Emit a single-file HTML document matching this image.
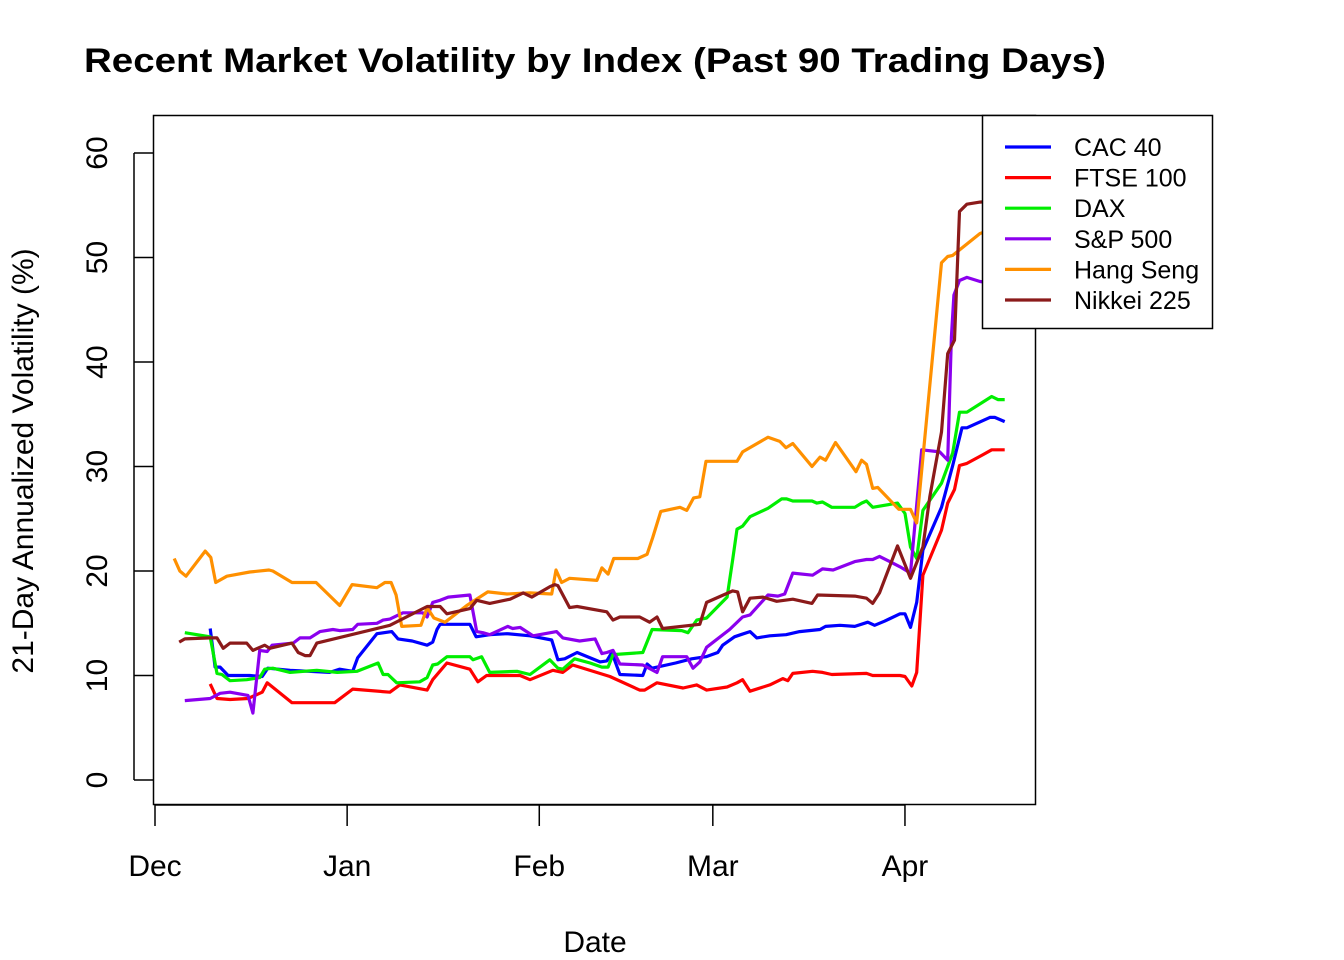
<!DOCTYPE html>
<html><head><meta charset="utf-8"><style>
html,body{margin:0;padding:0;background:#fff;}
svg{display:block;font-family:"Liberation Sans",Arial,sans-serif;}
</style></head><body>
<svg id="chart" width="1344" height="960" viewBox="0 0 1344 960" xmlns="http://www.w3.org/2000/svg">
<rect width="1344" height="960" fill="#fff"/>
<text x="84" y="72" font-size="34" font-weight="bold" textLength="1022" lengthAdjust="spacingAndGlyphs">Recent Market Volatility by Index (Past 90 Trading Days)</text>
<g id="plot"></g>
<rect x="153.5" y="115.5" width="882" height="689" fill="none" stroke="#000" stroke-width="1.5"/>
<text x="595" y="952" font-size="30" text-anchor="middle">Date</text>
<text x="0" y="0" font-size="30" text-anchor="middle" transform="translate(33,461) rotate(-90)">21-Day Annualized Volatility (%)</text>
<g id="legend"></g>
</svg>
<script>
const NS="http://www.w3.org/2000/svg";
// Data: x = days since Dec 1, y = volatility %
const seriesNames=["CAC 40","FTSE 100","DAX","S&P 500","Hang Seng","Nikkei 225"];
const seriesColors=["#0000ff","#ff0000","#00ee00","#8b00ee","#ff9000","#8b1a1a"];
const monthTicks=[0,31,62,90,121];
const monthLabels=["Dec","Jan","Feb","Mar","Apr"];
const yTicks=[0,10,20,30,40,50,60];
const cacDays=[8.9,9.7,10.5,11.8,15.3,17.3,18.2,21.8,28.2,29.8,31.9,32.7,35.8,38.2,39.2,41.5,43.9,44.8,45.5,46.0,50.8,51.8,54.0,56.8,60.5,64.0,65.0,66.1,68.1,71.8,72.9,73.7,75.0,78.7,79.4,80.2,84.0,86.6,88.9,90.8,91.6,93.5,94.5,96.0,97.1,99.2,101.8,104.0,107.3,108.2,110.5,112.9,115.0,116.1,117.7,120.2,121.0,121.9,122.9,123.9,126.9,128.7,130.2,131.0,134.7,135.5,137.1];
const cacVals=[14.5,10.8,10.8,10.0,10.0,9.9,10.7,10.5,10.3,10.6,10.4,11.7,14.0,14.2,13.5,13.3,12.9,13.2,14.4,14.9,14.9,13.7,13.9,14.0,13.8,13.4,11.5,11.6,12.2,11.3,11.4,12.2,10.1,10.0,11.1,10.7,11.2,11.6,11.8,12.2,12.9,13.7,13.9,14.2,13.6,13.8,13.9,14.2,14.4,14.7,14.8,14.7,15.1,14.8,15.2,15.9,15.9,14.6,17.0,22.0,26.1,30.1,33.7,33.7,34.7,34.7,34.3];
const ftseDays=[8.9,10.0,12.1,15.0,17.3,18.1,22.1,29.0,31.9,37.9,39.5,43.9,44.8,47.1,50.8,52.1,53.5,58.9,60.5,64.2,65.8,67.4,73.4,78.2,79.0,81.0,85.2,87.4,89.0,92.3,93.9,94.8,96.0,99.2,101.3,102.1,102.9,106.1,107.7,109.2,114.8,115.8,120.2,121.0,122.1,122.9,123.9,126.9,127.9,129.0,129.8,131.0,133.5,135.0,137.1];
const ftseVals=[9.2,7.8,7.7,7.8,8.4,9.3,7.4,7.4,8.7,8.4,9.1,8.6,9.6,11.2,10.6,9.4,10.0,10.0,9.6,10.5,10.3,11.0,9.9,8.6,8.6,9.3,8.8,9.1,8.6,8.9,9.3,9.6,8.5,9.1,9.7,9.5,10.2,10.4,10.3,10.1,10.2,10.0,10.0,9.9,9.0,10.3,19.6,23.9,26.5,27.8,30.1,30.3,31.1,31.6,31.6];
const daxDays=[4.8,8.9,10.0,10.8,12.1,14.8,16.9,17.7,19.0,21.8,26.1,29.4,32.6,36.0,36.8,37.6,39.0,42.7,43.9,44.8,45.6,47.1,50.8,51.3,52.7,54.0,58.4,60.5,63.7,65.0,65.8,67.7,70.2,72.1,73.1,73.9,78.7,80.2,85.0,86.0,87.4,89.0,92.3,93.2,93.9,94.8,96.0,98.9,101.1,101.9,102.9,106.0,106.8,107.7,109.2,112.9,114.0,114.8,115.8,119.8,121.0,121.9,122.9,123.9,126.9,128.7,129.8,131.0,135.0,136.0,137.1];
const daxVals=[14.1,13.7,10.2,10.1,9.5,9.6,9.8,10.6,10.7,10.3,10.5,10.3,10.4,11.2,10.1,10.1,9.3,9.4,9.8,11.0,11.1,11.8,11.8,11.5,11.8,10.3,10.4,10.1,11.5,10.7,10.6,11.6,11.2,10.8,10.8,12.0,12.2,14.4,14.3,14.1,15.3,15.5,17.5,21.1,24.0,24.3,25.2,26.0,26.9,26.9,26.7,26.7,26.5,26.6,26.1,26.1,26.5,26.7,26.1,26.5,25.5,22.3,21.2,25.8,28.4,31.3,35.2,35.2,36.7,36.4,36.4];
const spDays=[4.8,8.9,10.5,12.1,15.0,15.8,16.9,18.1,18.9,22.3,23.4,25.0,26.6,28.7,29.8,31.9,32.7,35.8,36.8,37.9,40.0,43.2,43.9,44.8,46.0,47.3,50.8,51.9,52.9,54.0,56.9,57.7,58.9,61.0,64.8,65.8,68.5,71.0,72.1,72.9,73.9,75.0,78.7,81.0,81.9,85.8,86.8,87.9,89.0,92.7,94.8,96.0,98.9,100.5,101.6,102.9,106.1,107.7,109.4,112.9,114.8,115.8,116.9,120.2,121.9,123.7,126.6,127.9,128.5,128.9,129.8,131.0,133.1,137.1];
const spVals=[7.6,7.8,8.3,8.4,8.1,6.4,12.4,12.3,12.9,13.1,13.6,13.6,14.2,14.4,14.3,14.4,14.9,15.0,15.3,15.4,16.0,16.0,15.6,17.0,17.2,17.5,17.7,14.2,14.1,13.9,14.7,14.5,14.6,13.8,14.2,13.6,13.3,13.5,12.1,12.2,12.4,11.1,11.0,10.3,11.8,11.8,10.7,11.3,12.7,14.4,15.6,15.8,17.7,17.6,17.8,19.8,19.6,20.2,20.1,20.9,21.1,21.1,21.4,20.4,19.8,31.6,31.4,30.6,42.4,46.4,47.8,48.1,47.7,47.4];
const hsDays=[3.1,4.0,5.0,8.1,9.0,9.8,11.6,15.3,18.4,19.0,22.1,26.0,29.8,31.8,35.8,37.1,38.1,38.9,39.8,42.9,43.9,45.0,46.8,50.3,53.7,56.8,60.5,64.0,64.7,65.6,66.9,71.3,72.1,73.1,74.0,77.9,79.4,80.3,81.6,84.7,85.8,86.9,87.9,88.9,93.9,94.8,98.9,100.8,101.8,102.9,106.0,107.3,108.2,109.8,113.1,114.0,114.8,115.8,116.6,120.0,121.9,122.9,126.9,127.9,128.7,133.1,137.1];
const hsVals=[21.2,20.0,19.5,21.9,21.3,18.9,19.5,19.9,20.1,20.0,18.9,18.9,16.7,18.7,18.4,18.9,18.9,17.7,14.7,14.8,16.5,15.5,15.1,16.7,18.0,17.8,17.9,17.8,20.1,18.9,19.3,19.1,20.3,19.7,21.2,21.2,21.6,23.2,25.7,26.1,25.8,27.0,27.1,30.5,30.5,31.4,32.8,32.4,31.8,32.2,30.0,30.9,30.6,32.3,29.5,30.6,30.2,27.9,28.0,25.9,25.9,24.6,49.5,50.1,50.2,52.3,53.1];
const nkDays=[3.9,4.8,8.9,10.0,11.0,12.1,14.8,15.8,17.7,18.5,22.1,23.1,24.2,25.0,26.1,37.9,43.9,46.0,47.1,50.8,51.9,54.0,57.3,59.4,60.8,63.7,64.5,65.0,66.9,68.1,72.9,73.9,75.0,78.2,79.8,81.0,81.9,87.9,89.0,93.2,94.0,94.8,96.0,98.1,100.3,102.9,106.0,106.9,112.9,114.8,115.8,116.9,119.8,121.9,123.9,125.0,126.9,127.9,129.0,129.8,131.0,133.1,137.1];
const nkVals=[13.2,13.5,13.6,13.6,12.6,13.1,13.1,12.4,12.9,12.6,13.1,12.2,11.9,11.9,13.1,14.8,16.6,16.6,15.9,16.4,17.2,16.9,17.3,17.9,17.5,18.5,18.7,18.6,16.5,16.6,16.1,15.3,15.6,15.6,15.1,15.6,14.5,14.9,17.0,18.1,18.0,16.1,17.4,17.5,17.1,17.3,16.9,17.7,17.6,17.4,16.9,17.9,22.4,19.3,22.3,27.1,33.3,40.8,42.1,54.4,55.1,55.3,55.5];
const allDays=[cacDays,ftseDays,daxDays,spDays,hsDays,nkDays];
const allVals=[cacVals,ftseVals,daxVals,spVals,hsVals,nkVals];
const seriesKeys=["cac-40","ftse-100","dax","sp-500","hang-seng","nikkei-225"];

const X0=155, PXD=6.198, Y0=780, PXV=10.45;
function xs(d){return X0+d*PXD;}
function ys(v){return Y0-v*PXV;}
const plot=document.getElementById('plot');
function mk(tag,attrs,parent){const e=document.createElementNS(NS,tag);for(const k in attrs)e.setAttribute(k,attrs[k]);parent.appendChild(e);return e;}

// y axis
yTicks.forEach(t=>{
  const l=mk('line',{x1:134,x2:153.5,y1:ys(t),y2:ys(t),stroke:'#000','stroke-width':1.5},plot);
  
  
  const tx=mk('text',{x:0,y:0,'font-size':30,'text-anchor':'middle',transform:`translate(107,${ys(t)}) rotate(-90)`},plot);
  tx.textContent=t;
  
  
});
const ya=mk('line',{x1:134,x2:134,y1:ys(0),y2:ys(60),stroke:'#000','stroke-width':1.5},plot);


// x axis
monthTicks.forEach((d,i)=>{
  const l=mk('line',{x1:xs(d),x2:xs(d),y1:805,y2:826,stroke:'#000','stroke-width':1.5},plot);
  
  
  const tx=mk('text',{x:xs(d),y:876,'font-size':30,'text-anchor':'middle'},plot);
  tx.textContent=monthLabels[i];
  
  
});
const xa=mk('line',{x1:xs(0),x2:xs(121),y1:805,y2:805,stroke:'#000','stroke-width':1.5},plot);



// series
allDays.forEach((days,s)=>{
  const pts=days.map((d,i)=>xs(d).toFixed(1)+','+ys(allVals[s][i]).toFixed(1)).join(' ');
  const p=mk('polyline',{points:pts,fill:'none',stroke:seriesColors[s],'stroke-width':3.2,'stroke-linejoin':'round'},plot);
  
  
});

// legend
const lg=document.getElementById('legend');
const bx=mk('rect',{x:982.5,y:115.5,width:230,height:213,fill:'#fff',stroke:'#000','stroke-width':1.5},lg);


seriesNames.forEach((n,i)=>{
  const y=147+i*30.6;
  const l=mk('line',{x1:1005,x2:1051,y1:y,y2:y,stroke:seriesColors[i],'stroke-width':3.2},lg);
  
  
  const t=mk('text',{x:1074,y:y+9,'font-size':25},lg);
  t.textContent=n;
  
  
});
</script>
</body></html>
